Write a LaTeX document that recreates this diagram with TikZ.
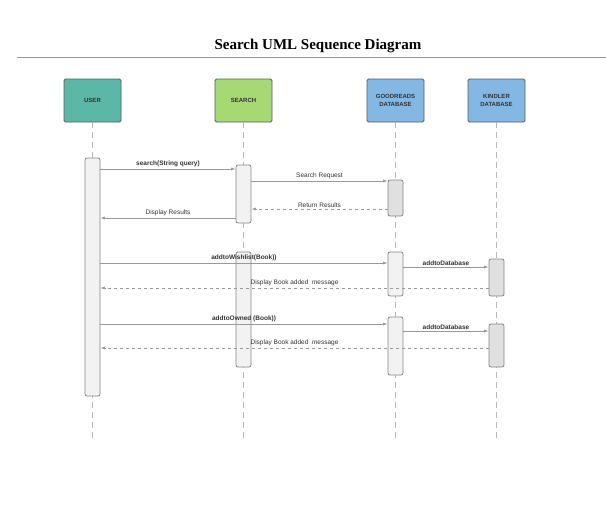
\documentclass[tikz,border=0pt]{standalone}
\usepackage{fontspec}
\setmainfont{Liberation Sans}
\newfontfamily\titlefont{Liberation Serif}
\usetikzlibrary{arrows.meta}
\definecolor{usercol}{HTML}{5CB8A6}
\definecolor{searchcol}{HTML}{A6D874}
\definecolor{dbcol}{HTML}{84B8E4}
\definecolor{edgecol}{HTML}{5A5A5A}
\definecolor{linecol}{HTML}{999999}
\definecolor{actedge}{HTML}{858585}
\definecolor{actlight}{HTML}{F2F2F2}
\definecolor{actdark}{HTML}{E0E0E0}
\definecolor{txtcol}{HTML}{333333}
\begin{document}
\begin{tikzpicture}[x=1pt,y=-1pt,
  actor/.style={draw=edgecol,line width=0.8pt,rounded corners=1.5pt,minimum width=57pt,minimum height=43pt,
    inner sep=1pt,align=center,font=\fontsize{6}{7.5}\selectfont\bfseries,text=txtcol},
  act/.style={draw=actedge,line width=0.8pt,fill=actlight,rounded corners=2pt,minimum width=15pt,inner sep=0pt},
  lifeline/.style={draw=linecol!70,line width=0.7pt,dash pattern=on 6pt off 4pt},
  msg/.style={draw=linecol,line width=0.7pt,-{Latex[length=4.5pt,width=3pt]}},
  reply/.style={msg,dash pattern=on 3pt off 3pt},
  lbl/.style={above,inner sep=1.5pt,text=txtcol,font=\fontsize{6.5}{7.5}\selectfont},
  blbl/.style={lbl,font=\fontsize{6.5}{7.5}\selectfont\bfseries}]
\useasboundingbox (0,0) rectangle (606,515);
% title
\node[font=\titlefont\fontsize{15}{18}\selectfont\bfseries] (title) at (318,46) {Search UML Sequence Diagram};
\draw[linecol,line width=0.8pt] (17,57) -- (606,57);
% participants
\node[actor,fill=usercol] (user) at (92.5,100.5) {USER};
\node[actor,fill=searchcol] (search) at (243.5,100.5) {SEARCH};
\node[actor,fill=dbcol] (good) at (395.5,100.5) {GOODREADS\\DATABASE};
\node[actor,fill=dbcol] (kind) at (496.5,100.5) {KINDLER\\DATABASE};
% lifelines
\coordinate (uend) at (92.5,440);
\coordinate (send) at (243.5,440);
\coordinate (gend) at (395.5,440);
\coordinate (kend) at (496.5,440);
\draw[lifeline] (user.south) -- (uend);
\draw[lifeline] (search.south) -- (send);
\draw[lifeline] (good.south) -- (gend);
\draw[lifeline] (kind.south) -- (kend);
% activations
\node[act,minimum height=238pt] (uact) at (92.5,277) {};
\node[act,minimum height=58pt] (sact1) at (243.5,194) {};
\node[act,minimum height=115pt] (sact2) at (243.5,309.5) {};
\node[act,fill=actdark,minimum height=36pt] (gact1) at (395.5,198) {};
\node[act,minimum height=44pt] (gact2) at (395.5,274) {};
\node[act,minimum height=58pt] (gact3) at (395.5,346) {};
\node[act,fill=actdark,minimum height=37pt] (kact1) at (496.5,277.5) {};
\node[act,fill=actdark,minimum height=43pt] (kact2) at (496.5,345.5) {};
% messages
\coordinate (m1) at (0,169);
\coordinate (m2) at (0,181);
\coordinate (m3) at (0,209);
\coordinate (m4) at (0,218);
\coordinate (m5) at (0,263);
\coordinate (m6) at (0,267);
\coordinate (m7) at (0,288);
\coordinate (m8) at (0,324);
\coordinate (m9) at (0,331);
\coordinate (m10) at (0,348);
\draw[msg] (uact.east |- m1) to node[blbl]{search(String query)} (sact1.west |- m1);
\draw[msg] (sact1.east |- m2) to node[lbl]{Search Request} (gact1.west |- m2);
\draw[reply] (gact1.west |- m3) to node[lbl]{Return Results} (sact1.east |- m3);
\draw[msg] (sact1.west |- m4) to node[lbl]{Display Results} (uact.east |- m4);
\draw[msg] (uact.east |- m5) to node[blbl]{addtoWishlist(Book))} (gact2.west |- m5);
\draw[msg] (gact2.east |- m6) to node[blbl]{addtoDatabase} (kact1.west |- m6);
\draw[reply] (kact1.west |- m7) to node[lbl]{Display Book added~~message} (uact.east |- m7);
\draw[msg] (uact.east |- m8) to node[blbl]{addtoOwned (Book))} (gact3.west |- m8);
\draw[msg] (gact3.east |- m9) to node[blbl]{addtoDatabase} (kact2.west |- m9);
\draw[reply] (kact2.west |- m10) to node[lbl]{Display Book added~~message} (uact.east |- m10);
\end{tikzpicture}
\end{document}
